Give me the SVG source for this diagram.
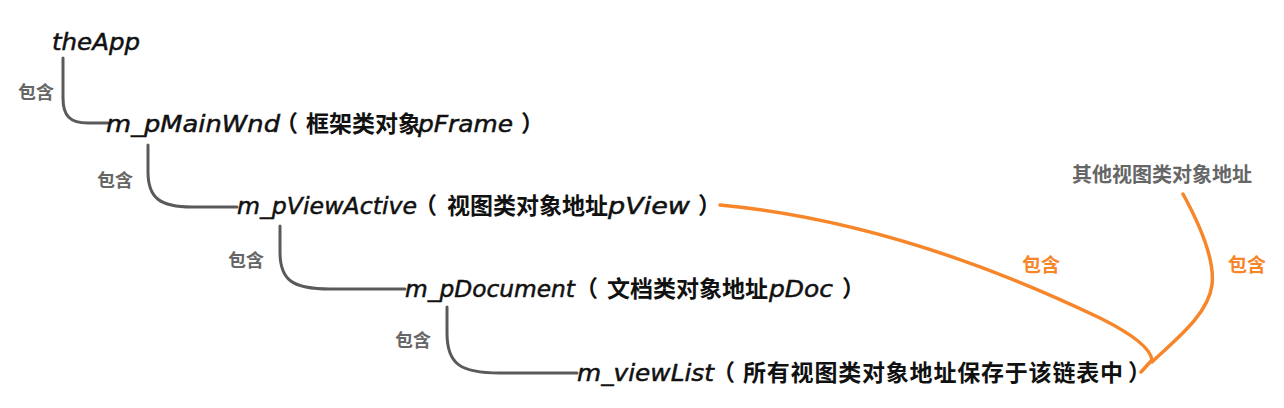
<svg xmlns="http://www.w3.org/2000/svg" width="1284" height="408" viewBox="0 0 1284 408">
<style>
.lat{font-family:"DejaVu Sans","Liberation Sans",sans-serif;font-style:italic;font-size:23px;fill:#111;stroke:#111;stroke-width:0.5}
.cjk{font-family:"Noto Sans CJK SC",sans-serif;font-weight:bold;font-size:23px;fill:#111}
.lbl{font-family:"Noto Sans CJK SC",sans-serif;font-weight:bold;font-size:18px;fill:#666}
.olbl{font-family:"Noto Sans CJK SC",sans-serif;font-weight:bold;font-size:19px;fill:#F7862B}
.g{fill:none;stroke:#5a5a5a;stroke-width:3;stroke-linecap:round}
.o{fill:none;stroke:#F7862B;stroke-width:3.5;stroke-linecap:round;stroke-linejoin:round}
</style>
<rect width="1284" height="408" fill="#fff"/>
<g id="connectors">
<path class="g" d="M63,58 L63,98 C63,116 70,123 88,123 L108,123"/>
<path class="g" d="M148,145 L148,172 C148,198 160,207 192,207 L237,207"/>
<path class="g" d="M280,226 L280,252 C280,280 292,289 330,289 L405,289"/>
<path class="g" d="M447,307 L447,333 C447,364 460,373 500,373 L577,373"/>
<path class="o" d="M720,205 Q900,222 1100,318 Q1150,343 1152,360 L1141,372"/>
<path class="o" d="M1183,194 C1200,225 1215,260 1212,285 C1208,315 1175,340 1152,362"/>
<text class="lbl" x="18" y="99">包含</text>
<text class="lbl" x="97" y="187">包含</text>
<text class="lbl" x="228" y="267">包含</text>
<text class="lbl" x="395" y="347">包含</text>
<text class="olbl" x="1022" y="272">包含</text>
<text class="olbl" x="1228" y="272">包含</text>
</g>
<g id="node-theApp">
<text class="lat" x="52" y="50" textLength="88" lengthAdjust="spacingAndGlyphs">theApp</text>
</g>
<g id="node-mainwnd">
<text y="132"><tspan class="lat" x="106" textLength="174" lengthAdjust="spacingAndGlyphs">m_pMainWnd</tspan><tspan class="cjk" x="275">（</tspan><tspan class="cjk" x="306">框架类对象</tspan><tspan class="lat" x="418" textLength="95" lengthAdjust="spacingAndGlyphs">pFrame</tspan><tspan class="cjk" x="521">）</tspan></text>
</g>
<g id="node-viewactive">
<text y="214"><tspan class="lat" x="237" textLength="180" lengthAdjust="spacingAndGlyphs">m_pViewActive</tspan><tspan class="cjk" x="414">（</tspan><tspan class="cjk" x="447">视图类对象地址</tspan><tspan class="lat" x="608" textLength="82" lengthAdjust="spacingAndGlyphs">pView</tspan><tspan class="cjk" x="698">）</tspan></text>
</g>
<g id="node-document">
<text y="297"><tspan class="lat" x="405" textLength="170" lengthAdjust="spacingAndGlyphs">m_pDocument</tspan><tspan class="cjk" x="575">（</tspan><tspan class="cjk" x="607">文档类对象地址</tspan><tspan class="lat" x="769" textLength="64" lengthAdjust="spacingAndGlyphs">pDoc</tspan><tspan class="cjk" x="842">）</tspan></text>
</g>
<g id="node-viewlist">
<text y="381"><tspan class="lat" x="577" textLength="137" lengthAdjust="spacingAndGlyphs">m_viewList</tspan><tspan class="cjk" x="712">（</tspan><tspan class="cjk" x="743" style="letter-spacing:0.8px">所有视图类对象地址保存于该链表中</tspan><tspan class="cjk" x="1128">）</tspan></text>
</g>
<g id="node-others">
<text class="lbl" x="1072" y="182" style="font-size:20px">其他视图类对象地址</text>
</g>
</svg>
